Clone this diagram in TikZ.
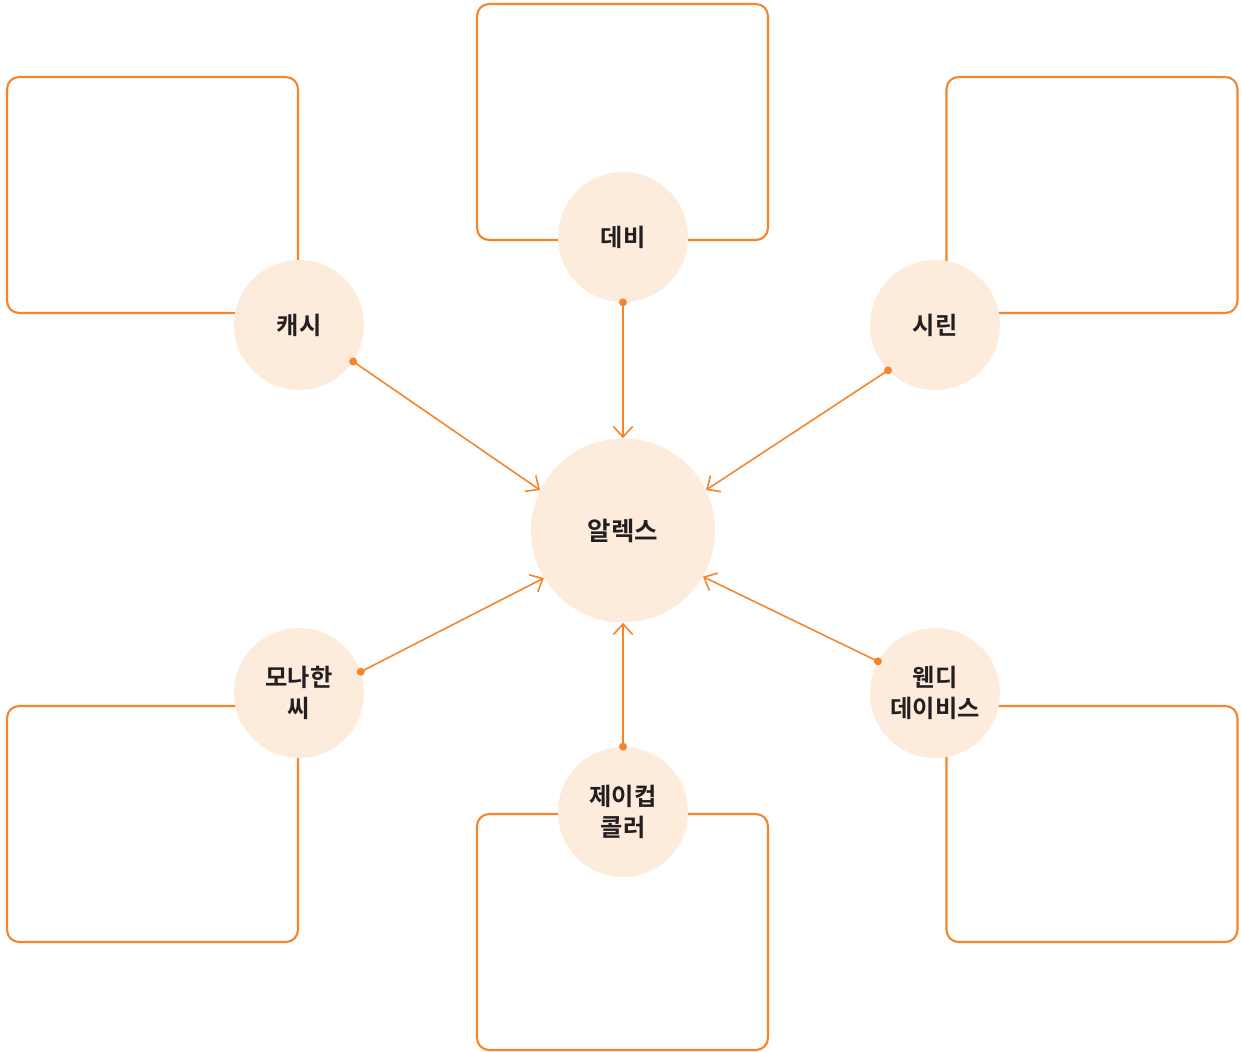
\documentclass[tikz,border=0pt]{standalone}
\usepackage{fontspec}
\setmainfont{Noto Sans CJK KR Bold}
\usetikzlibrary{arrows.meta}
\definecolor{lineor}{HTML}{F5842A}
\definecolor{peach}{HTML}{FDEBDC}
\definecolor{inkc}{HTML}{231F20}
\begin{document}
\begin{tikzpicture}[x=0.02cm,y=-0.02cm,
  framebox/.style={draw=lineor,line width=1.2pt,rounded corners=0.24cm,minimum width=5.82cm,minimum height=4.72cm,inner sep=0pt},
  person/.style={circle,fill=peach,minimum size=2.6cm,inner sep=0pt,text=inkc,font=\fontsize{13.8pt}{17.6pt}\selectfont,align=center},
  hub/.style={circle,fill=peach,minimum size=3.68cm,inner sep=0pt,text=inkc,font=\fontsize{14.5pt}{18pt}\selectfont},
  link/.style={draw=lineor,line width=0.9pt,-{Straight Barb[length=6pt,width=11pt,line width=0.9pt]}},
  dotc/.style={circle,fill=lineor,minimum size=0.16cm,inner sep=0pt}]
\useasboundingbox (0,0) rectangle (1242,1052);
% boxes
\node[framebox] (b1) at (152.5,195) {};
\node[framebox] (b2) at (622.5,122) {};
\node[framebox] (b3) at (1092,195) {};
\node[framebox] (b4) at (152.5,824) {};
\node[framebox] (b5) at (622.5,932) {};
\node[framebox] (b6) at (1092,824) {};
% circles
\node[person] (kashi) at (299,325) {캐시};
\node[person] (debi) at (623,237) {데비};
\node[person] (sirin) at (935,325) {시린};
\node[person] (mona) at (299,693) {모나한\\씨};
\node[person] (jacob) at (623,812) {제이컵\\콜러};
\node[person] (wendy) at (935,693) {웬디\\데이비스};
\node[hub] (alex) at (623,530.5) {알렉스};
% connectors
\draw[link] (kashi.-34) -- (alex.154);
\draw[link] (debi.-90) -- (alex.90);
\draw[link] (sirin.-136) -- (alex.26);
\draw[link] (mona.19) -- (alex.-149);
\draw[link] (jacob.90) -- (alex.-90);
\draw[link] (wendy.151) -- (alex.-30);
% dots
\node[dotc] (d1) at (kashi.-34) {};
\node[dotc] (d2) at (debi.-90) {};
\node[dotc] (d3) at (sirin.-136) {};
\node[dotc] (d4) at (mona.19) {};
\node[dotc] (d5) at (jacob.90) {};
\node[dotc] (d6) at (wendy.151) {};
\end{tikzpicture}
\end{document}
